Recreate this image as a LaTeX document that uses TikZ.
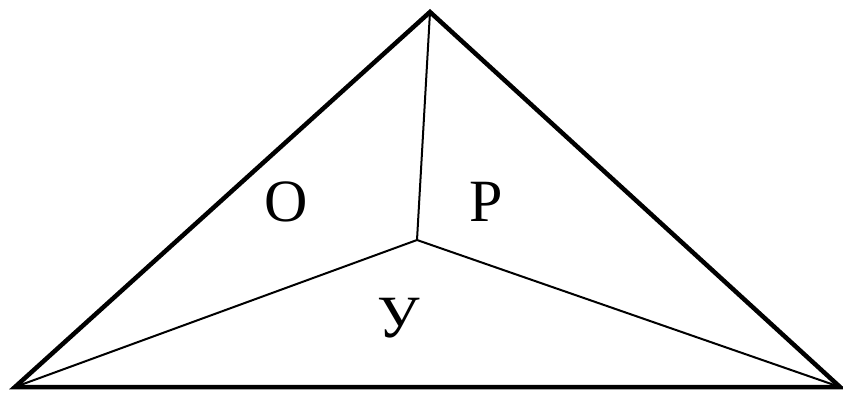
\documentclass[tikz,border=0pt]{standalone}
\usepackage{fontspec}
\setmainfont{Liberation Serif}
\usepackage{tikz}

\begin{document}
\begin{tikzpicture}[x=1pt, y=-1pt, font=\fontsize{60}{60}\selectfont]
    \useasboundingbox (0,0) rectangle (843,392);
    \coordinate (top) at (430,12);
    \coordinate (left) at (15,387);
    \coordinate (right) at (840,387);
    \coordinate (mid) at (417,240);
    \draw[line width=2pt] (mid) -- (top);
    \draw[line width=2pt] (mid) -- (left);
    \draw[line width=2pt] (mid) -- (right);
    \draw[line width=4.5pt, line join=miter] (left) -- (top) -- (right) -- cycle;
    \node[anchor=base, inner sep=0pt] (o) at (286,221) {О};
    \node[anchor=base, inner sep=0pt] (p) at (486,221) {Р};
    \node[anchor=base, inner sep=0pt] (u) at (399,337) {У};
  \end{tikzpicture}
\end{document}
